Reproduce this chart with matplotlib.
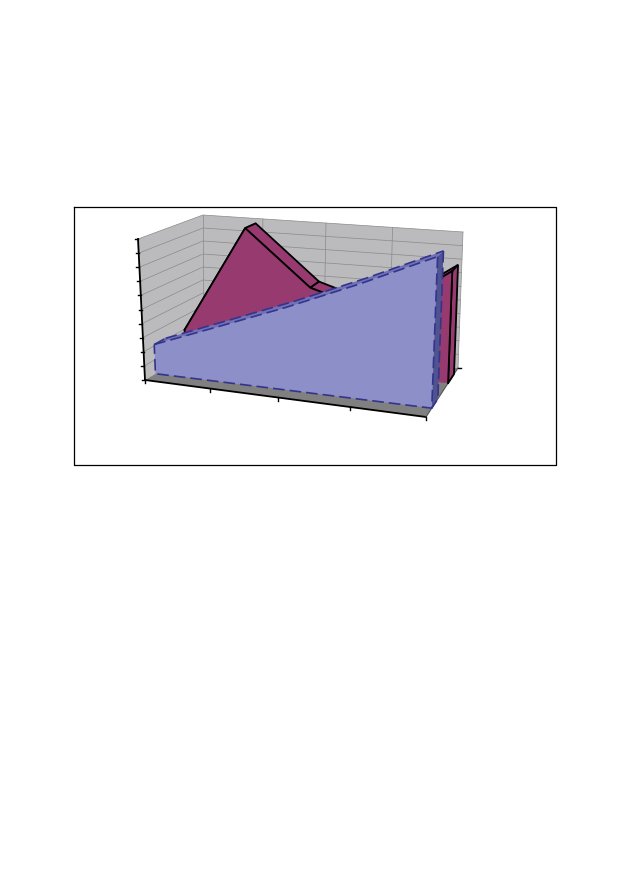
import matplotlib
matplotlib.use('Agg')
import matplotlib.pyplot as plt

# values, axis runs 0-10 with no labels
cats = [0, 1, 2, 3, 4]
back_vals = [1.95, 9.9, 5.9, 4.4, 7.9]
front_vals = [2.1, 3.87, 5.7, 7.74, 10.0]
val_ticks = [0, 1, 2, 3, 4, 5, 6, 7, 8, 9, 10]
n_cat = 4
val_max = 10.0

# depth of each ribbon in the 3d box, 0 front 1 back
back_depth = (0.69, 0.875)
front_depth = (0.18, 0.37)

# box corners on the page, F/B front back, B/T bottom top, L/R left right
FBL = (145, 380)
FBR = (426, 417)
BBL = (203, 345)
BBR = (458, 368)
FTL = (138, 239)
FTR = (432, 262)
BTL = (203, 215)
BTR = (463, 232)
persp = 0.8975  # categories get wider toward the near corner


def proj(c, d, v):
    u = c / n_cat
    u = persp * u / (1 + (persp - 1) * u)
    w = v / val_max
    pts = []
    for i in range(2):
        fb = FBL[i] * (1 - u) + FBR[i] * u
        bb = BBL[i] * (1 - u) + BBR[i] * u
        ft = FTL[i] * (1 - u) + FTR[i] * u
        bt = BTL[i] * (1 - u) + BTR[i] * u
        b = fb * (1 - d) + bb * d
        t = ft * (1 - d) + bt * d
        pts.append(b * (1 - w) + t * w)
    return pts[0], pts[1]


def poly(ax, pts, color, **kw):
    # same zorder as lines so that drawing order decides what is hidden
    ax.fill([p[0] for p in pts], [p[1] for p in pts], color=color, zorder=2, **kw)


fig = plt.figure(figsize=(6.29, 8.93), dpi=100)
ax = fig.add_axes([0, 0, 1, 1])
ax.set_xlim(0, 629)
ax.set_ylim(893, 0)
ax.axis('off')

# outer frame
ax.plot([74, 556, 556, 74, 74], [207, 207, 465, 465, 207], color='black', lw=0.9)

# walls and floor
wall = '#bbbbbd'
poly(ax, [FBL, BBL, BTL, FTL], wall, lw=0)
poly(ax, [BBL, BBR, BTR, BTL], wall, lw=0)
poly(ax, [FBL, FBR, BBR, BBL], '#808080', lw=0)

grid = dict(color='#8a8a8a', lw=0.5)
for t in val_ticks[1:]:
    a = proj(0, 0, t)
    b = proj(0, 1, t)
    c = proj(n_cat, 1, t)
    ax.plot([a[0], b[0], c[0]], [a[1], b[1], c[1]], **grid)
for c in cats[:-1]:
    a = proj(c, 1, 0)
    b = proj(c, 1, val_max)
    ax.plot([a[0], b[0]], [a[1], b[1]], **grid)
ax.plot([BBR[0], BTR[0]], [BBR[1], BTR[1]], **grid)

# axes lines and ticks
ax.plot([FBL[0], FTL[0]], [FBL[1], FTL[1]], color='black', lw=1.3)
ax.plot([FBL[0], FBR[0]], [FBL[1], FBR[1]], color='black', lw=1.3)
ax.plot([FBR[0], BBR[0]], [FBR[1], BBR[1]], color='#555555', lw=0.8)
for t in val_ticks:
    x, y = proj(0, 0, t)
    ax.plot([x - 3, x], [y, y], color='black', lw=1)
for c in cats:
    x, y = proj(c, 0, 0)
    ax.plot([x, x], [y, y + 3], color='black', lw=1)
ax.plot([BBR[0], BBR[0] + 3], [BBR[1], BBR[1]], color='black', lw=1)

# back ribbon
red = '#963a70'
d0, d1 = back_depth
for i in range(n_cat):
    pts = [proj(cats[i], d0, back_vals[i]), proj(cats[i], d1, back_vals[i]),
           proj(cats[i + 1], d1, back_vals[i + 1]), proj(cats[i + 1], d0, back_vals[i + 1])]
    poly(ax, pts, red, ec='black', lw=1.3)
pts = [proj(n_cat, d0, back_vals[-1]), proj(n_cat, d1, back_vals[-1]), proj(n_cat, d1, 0), proj(n_cat, d0, 0)]
poly(ax, pts, red, ec='black', lw=1.3)
pts = [proj(c, d0, v) for c, v in zip(cats, back_vals)] + [proj(n_cat, d0, 0), proj(0, d0, 0)]
poly(ax, pts, red, lw=0)
top = [proj(c, d0, v) for c, v in zip(cats, back_vals)]
ax.plot([p[0] for p in top], [p[1] for p in top], color='black', lw=1.3)
a = proj(0, d0, 0)
ax.plot([top[0][0], a[0]], [top[0][1], a[1]], color='black', lw=1.3)
a = proj(n_cat, d0, 0)
ax.plot([top[-1][0], a[0]], [top[-1][1], a[1]], color='black', lw=1.3)

# front ribbon
edge = dict(color='#34348c', lw=1.2, ls=(0, (7, 3)))
d0, d1 = front_depth
top_f = [proj(c, d0, v) for c, v in zip(cats, front_vals)]
top_b = [proj(c, d1, v) for c, v in zip(cats, front_vals)]
poly(ax, top_f + top_b[::-1], '#7073b8', lw=0)
side = [top_f[-1], top_b[-1], proj(n_cat, d1, 0), proj(n_cat, d0, 0)]
poly(ax, side, '#4d5490', lw=0)
face = top_f + [proj(n_cat, d0, 0), proj(0, d0, 0)]
poly(ax, face, '#8c8fc8', lw=0)
ax.plot([p[0] for p in top_f], [p[1] for p in top_f], **edge)
ax.plot([p[0] for p in top_b], [p[1] for p in top_b], **edge)
ax.plot([p[0] for p in face[4:] + face[:1]], [p[1] for p in face[4:] + face[:1]], **edge)
ax.plot([p[0] for p in side[1:]], [p[1] for p in side[1:]], **edge)
ax.plot([top_f[0][0], top_b[0][0]], [top_f[0][1], top_b[0][1]], **edge)

fig.savefig('out.png', dpi=100)
